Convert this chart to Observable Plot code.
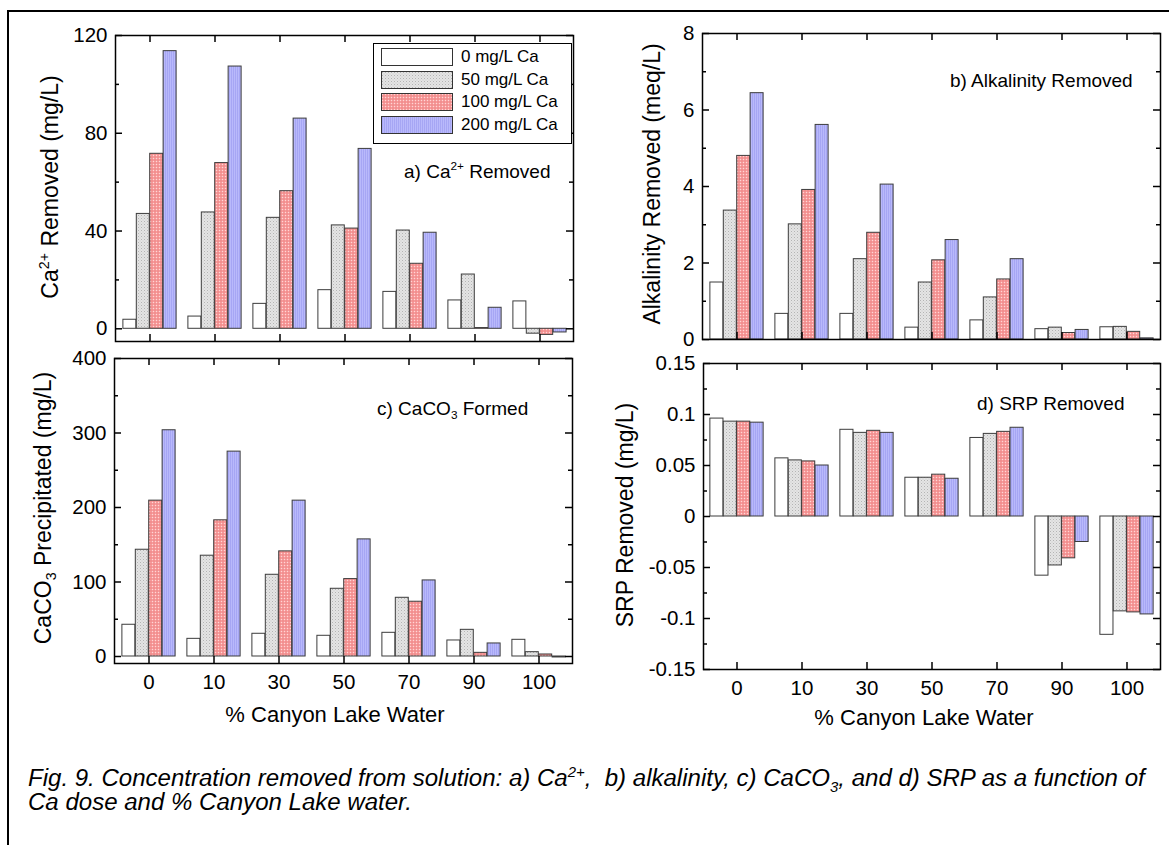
<!DOCTYPE html>
<html>
<head>
<meta charset="utf-8">
<script src="https://cdn.jsdelivr.net/npm/d3@7"></script>
<script src="https://cdn.jsdelivr.net/npm/@observablehq/plot@0.6"></script>
<style>
  html, body { margin: 0; padding: 0; background: #fff; width: 1169px; height: 845px; overflow: hidden; }
  body { position: relative; font-family: "Liberation Sans", Arial, Helvetica, sans-serif; color: #000; }
  .abs { position: absolute; }
  .border { position: absolute; left: 7px; top: 10px; width: 1200px; height: 900px; border: 2px solid #000; }
  .ylab { position: absolute; white-space: nowrap; font-size: 23px; line-height: 1; transform: translate(-50%, -50%) rotate(-90deg); }
  .xlab { position: absolute; white-space: nowrap; font-size: 22px; line-height: 1; transform: translate(-50%, -50%); }
  .ann { position: absolute; white-space: nowrap; font-size: 19px; line-height: 1; transform: translateY(-50%); }
  sup, sub { font-size: 62%; line-height: 0; }
  .legend { position: absolute; left: 373px; top: 43px; width: 199px; height: 101px; box-sizing: border-box; border: 1.5px solid #000; background: #fff; }
  .legend .sw { position: absolute; left: 7px; width: 72px; height: 18px; box-sizing: border-box; border: 1px solid #333; }
  .legend .lt { position: absolute; left: 87px; font-size: 17px; line-height: 18px; white-space: nowrap; }
  .caption { position: absolute; left: 28px; top: 766px; font-size: 23px; line-height: 24px; font-style: italic; white-space: nowrap; transform: scaleX(1.045); transform-origin: 0 0; }
</style>
</head>
<body>
<svg width="0" height="0" style="position:absolute">
  <defs>
    <pattern id="pWhite" width="3" height="3" patternUnits="userSpaceOnUse">
      <rect width="3" height="3" fill="#ffffff"/>
    </pattern>
    <pattern id="pGray" width="3" height="3" patternUnits="userSpaceOnUse">
      <rect width="3" height="3" fill="#e4e4e4"/>
      <rect x="0" y="0" width="1" height="1" fill="#b4b4b4"/>
      <rect x="1.5" y="1.5" width="1" height="1" fill="#c8c8c8"/>
    </pattern>
    <pattern id="pRed" width="3" height="3" patternUnits="userSpaceOnUse">
      <rect width="3" height="3" fill="#f69c9c"/>
      <rect x="0" y="0" width="1" height="1" fill="#ffd6d6"/>
      <rect x="1.5" y="1.5" width="1" height="1" fill="#e76a6a"/>
    </pattern>
    <pattern id="pBlue" width="2" height="2" patternUnits="userSpaceOnUse">
      <rect width="2" height="2" fill="#b9b9fb"/>
      <rect x="0" y="0" width="1" height="2" fill="#a6a6f4"/>
    </pattern>
  </defs>
</svg>

<div class="border"></div>
<div id="panels"></div>

<div class="ylab" style="left:50px; top:187px;">Ca<sup>2+</sup> Removed (mg/L)</div>
<div class="ylab" style="left:652px; top:184px;">Alkalinity Removed (meq/L)</div>
<div class="ylab" style="left:43px; top:508px;">CaCO<sub>3</sub> Precipitated (mg/L)</div>
<div class="ylab" style="left:625px; top:515px;">SRP Removed (mg/L)</div>

<div class="xlab" style="left:335px; top:715px;">% Canyon Lake Water</div>
<div class="xlab" style="left:924px; top:718px;">% Canyon Lake Water</div>

<div class="ann" style="left:404px; top:171px;">a) Ca<sup>2+</sup> Removed</div>
<div class="ann" style="left:950px; top:80px;">b) Alkalinity Removed</div>
<div class="ann" style="left:377px; top:408px;">c) CaCO<sub>3</sub> Formed</div>
<div class="ann" style="left:977px; top:403px;">d) SRP Removed</div>

<div class="legend" id="legend"></div>

<div class="caption">Fig. 9. Concentration removed from solution: a) Ca<sup>2+</sup>,&nbsp; b) alkalinity, c) CaCO<sub>3</sub>, and d) SRP as a function of<br>Ca dose and % Canyon Lake water.</div>

<script>
// ---- data ----
const categories = ["0", "10", "30", "50", "70", "90", "100"];
const doses = ["0 mg/L Ca", "50 mg/L Ca", "100 mg/L Ca", "200 mg/L Ca"];
const doseFills = ["url(#pWhite)", "url(#pGray)", "url(#pRed)", "url(#pBlue)"];

// rows: dose 0, 50, 100, 200 mg/L Ca; columns: % Canyon Lake water
const caRemoved = [
  [3.7, 5.0, 10.2, 15.8, 15.1, 11.6, 11.2],
  [47.0, 47.6, 45.4, 42.3, 40.2, 22.2, -2.0],
  [71.6, 67.8, 56.3, 41.0, 26.6, 0.3, -2.5],
  [113.6, 107.3, 86.0, 73.6, 39.3, 8.6, -1.5]
];
const alkalinityRemoved = [
  [1.49, 0.67, 0.67, 0.31, 0.50, 0.27, 0.32],
  [3.37, 3.01, 2.10, 1.49, 1.10, 0.31, 0.33],
  [4.80, 3.91, 2.79, 2.07, 1.57, 0.17, 0.20],
  [6.44, 5.61, 4.05, 2.60, 2.10, 0.25, 0.03]
];
const caco3Formed = [
  [42.6, 23.7, 30.5, 27.8, 31.8, 21.5, 22.4],
  [143.3, 135.3, 109.7, 90.9, 78.8, 35.8, 5.8],
  [209.2, 182.8, 141.1, 103.9, 73.5, 4.9, 2.7],
  [303.7, 275.0, 209.2, 157.2, 102.1, 17.5, -1.3]
];
const srpRemoved = [
  [0.096, 0.057, 0.085, 0.038, 0.077, -0.058, -0.116],
  [0.093, 0.055, 0.082, 0.038, 0.081, -0.048, -0.093],
  [0.093, 0.054, 0.084, 0.041, 0.083, -0.041, -0.094],
  [0.092, 0.050, 0.082, 0.037, 0.087, -0.025, -0.096]
];

// tick values
const caMajor = [0, 40, 80, 120], caMinor = [20, 60, 100];
const alkMajor = [0, 2, 4, 6, 8], alkMinor = [1, 3, 5, 7];
const caco3Major = [0, 100, 200, 300, 400], caco3Minor = [50, 150, 250, 350];
const srpMajor = [-0.15, -0.1, -0.05, 0, 0.05, 0.1, 0.15];
const srpMinor = [-0.125, -0.075, -0.025, 0.025, 0.075, 0.125];

const FONT = '"Liberation Sans", Arial, Helvetica, sans-serif';

function toRows(values) {
  return categories.flatMap((c, i) => doses.map((d, j) => ({cat: c, dose: j, value: values[j][i]})));
}

function panel({x, y, W, H, values, domain, major, minor, fmt, xAxis}) {
  const mL = 64, mR = 4, mT = 12, mB = xAxis ? 40 : 6;
  const B = W / categories.length;
  const pad = 0.09 * B, bw = 0.205 * B;
  const rows = toRows(values);
  const marks = [];
  doses.forEach((d, j) => {
    marks.push(Plot.barY(rows.filter(r => r.dose === j), {
      x: "cat", y: "value",
      fill: doseFills[j], stroke: "#3c3c3c", strokeWidth: 1,
      insetLeft: pad + j * bw, insetRight: B - pad - (j + 1) * bw
    }));
  });
  const tk = {stroke: "#000", strokeWidth: 1.5};
  marks.push(
    Plot.tickY(major, {y: d => d, insetRight: W - 7, ...tk}),
    Plot.tickY(major, {y: d => d, insetLeft: W - 7, ...tk}),
    Plot.tickY(minor, {y: d => d, insetRight: W - 4, ...tk}),
    Plot.tickY(minor, {y: d => d, insetLeft: W - 4, ...tk}),
    Plot.tickX(categories, {x: d => d, insetBottom: H - 7, ...tk}),
    Plot.tickX(categories, {x: d => d, insetTop: H - 7, ...tk}),
    Plot.axisY(major, {anchor: "left", tickSize: 0, tickPadding: 8, tickFormat: fmt, fontSize: 20.5, label: null})
  );
  if (xAxis) marks.push(Plot.axisX({anchor: "bottom", tickSize: 0, tickPadding: 11, fontSize: 20.5, label: null}));
  marks.push(Plot.frame({stroke: "#000", strokeWidth: 1.5}));
  const svg = Plot.plot({
    width: mL + W + mR, height: mT + H + mB,
    marginLeft: mL, marginRight: mR, marginTop: mT, marginBottom: mB,
    style: {background: "transparent", fontFamily: FONT, fontSize: "20.5px", color: "#000", overflow: "visible"},
    x: {type: "band", domain: categories, padding: 0, label: null, axis: xAxis ? undefined : null},
    y: {domain, label: null},
    marks
  });
  const wrap = document.createElement("div");
  wrap.className = "abs";
  wrap.style.left = (x - mL) + "px";
  wrap.style.top = (y - mT) + "px";
  wrap.appendChild(svg);
  document.getElementById("panels").appendChild(wrap);
}

const fmtPlain = d => String(d);
const fmtSrp = d => String(+d.toFixed(3));

panel({x: 115, y: 35, W: 458, H: 306, values: caRemoved, domain: [-5.2, 120], major: caMajor, minor: caMinor, fmt: fmtPlain, xAxis: false});
panel({x: 702, y: 33, W: 458, H: 306, values: alkalinityRemoved, domain: [0, 8], major: alkMajor, minor: alkMinor, fmt: fmtPlain, xAxis: false});
panel({x: 114, y: 358, W: 458, H: 305, values: caco3Formed, domain: [-9.4, 400], major: caco3Major, minor: caco3Minor, fmt: fmtPlain, xAxis: true});
panel({x: 703, y: 363, W: 457, H: 306, values: srpRemoved, domain: [-0.15, 0.15], major: srpMajor, minor: srpMinor, fmt: fmtSrp, xAxis: true});

// legend
const legend = document.getElementById("legend");
const tops = [4, 27, 49, 72];
doses.forEach((d, j) => {
  const sw = document.createElement("div");
  sw.className = "sw";
  sw.style.top = tops[j] + "px";
  const s = document.createElementNS("http://www.w3.org/2000/svg", "svg");
  s.setAttribute("width", "70"); s.setAttribute("height", "16");
  s.style.display = "block";
  const r = document.createElementNS("http://www.w3.org/2000/svg", "rect");
  r.setAttribute("width", "70"); r.setAttribute("height", "16");
  r.setAttribute("fill", doseFills[j]);
  s.appendChild(r);
  sw.appendChild(s);
  legend.appendChild(sw);
  const t = document.createElement("div");
  t.className = "lt";
  t.style.top = tops[j] + "px";
  t.textContent = d;
  legend.appendChild(t);
});
</script>
</body>
</html>
